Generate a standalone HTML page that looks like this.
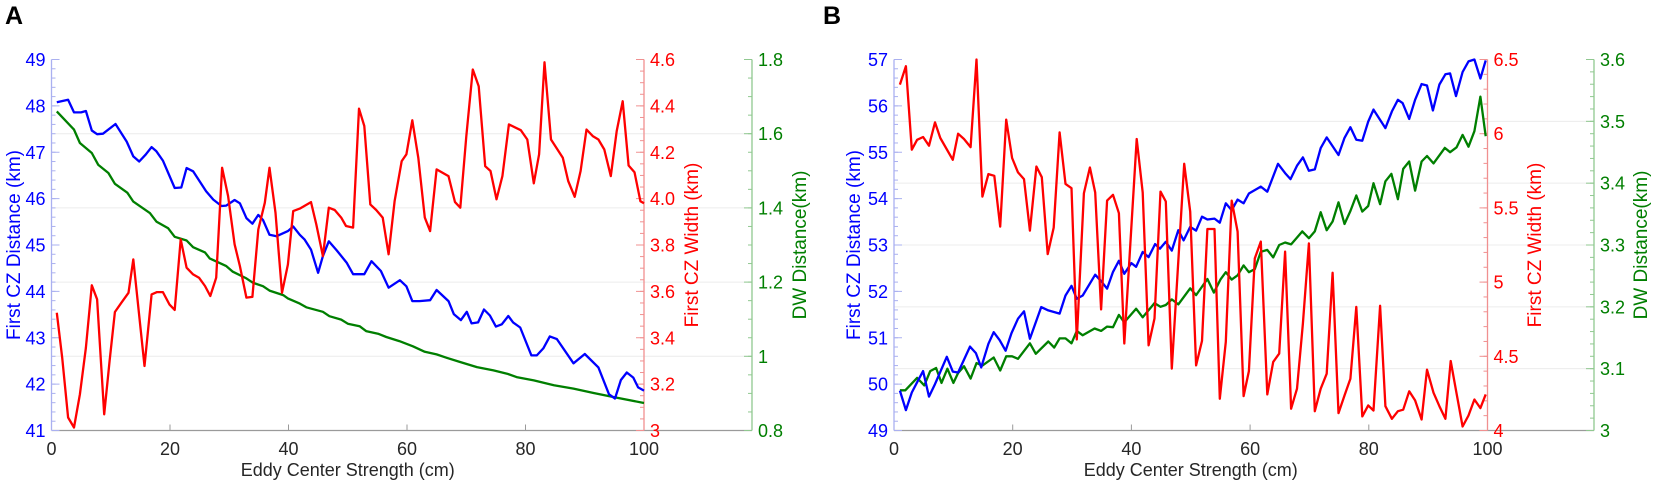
<!DOCTYPE html>
<html><head><meta charset="utf-8">
<style>
html,body{margin:0;padding:0;background:#fff;}
svg{display:block;font-family:"Liberation Sans",Arial,sans-serif;}
</style></head>
<body>
<svg id="chart" width="1654" height="483" viewBox="0 0 1654 483" xmlns="http://www.w3.org/2000/svg"></svg>
<script>
// ---------- Panel A data ----------
const aBlueX=[0.9,2.8,3.8,5,5.8,6.8,7.7,8.7,10.8,12.7,13.8,14.8,15.9,16.9,17.7,18.8,20.8,21.9,22.8,23.9,26.1,27.3,28.7,29.5,30.9,31.8,32.9,33.9,34.9,35.7,36.8,38,39.9,40.8,41.9,42.7,43.8,45,45.8,46.8,48.1,49.8,50.9,52.8,54,55.6,56.9,58.8,59.9,60.9,62.1,63.9,65,67,67.9,69.1,70.1,70.9,72,73,74,75,76,77.1,77.9,79.1,81,81.9,83,84.1,85.3,88.1,90,92.3,94.1,95.1,96.1,97.1,98.2,99,100];
const aBlueY=[48.08,48.13,47.86,47.86,47.89,47.47,47.39,47.40,47.61,47.23,46.91,46.80,46.95,47.11,47.02,46.82,46.23,46.24,46.66,46.59,46.16,45.98,45.84,45.85,45.97,45.90,45.58,45.46,45.65,45.54,45.22,45.19,45.30,45.40,45.22,45.12,44.90,44.40,44.76,45.08,44.89,44.62,44.37,44.37,44.65,44.44,44.08,44.24,44.11,43.79,43.79,43.81,44.03,43.79,43.51,43.38,43.56,43.31,43.33,43.61,43.48,43.24,43.29,43.47,43.33,43.22,42.62,42.62,42.77,43.03,42.97,42.45,42.65,42.36,41.78,41.69,42.09,42.25,42.14,41.93,41.86];
const aRedX=[0.9,1.8,2.8,3.8,4.8,5.8,6.8,7.7,8.9,9.8,10.7,11.8,13,13.8,15.7,16.9,17.8,18.8,19.9,20.8,21.8,22.8,23.9,24.9,25.9,26.8,27.8,28.8,29.8,30.9,31.8,32.9,33.9,34.9,36,36.8,37.8,38.9,39.9,40.8,41.9,43.8,44.7,45.8,46.8,47.8,48.9,49.7,50.9,51.9,52.8,53.8,54.8,55.9,56.9,57.9,59.1,59.9,60.9,61.9,63,63.9,65,67,68.1,69,70,71.1,72.1,73.2,74.1,75.1,76.1,77.2,79.2,80.3,81.4,82.3,83.2,84.3,86.3,87.2,88.3,89.3,90.3,91.4,92.3,93.3,94.4,95.4,96.4,97.4,98.4,99.4,100];
const aRedY=[3.508,3.314,3.056,3.013,3.156,3.357,3.626,3.566,3.070,3.300,3.511,3.551,3.594,3.738,3.278,3.587,3.597,3.597,3.544,3.520,3.824,3.702,3.673,3.659,3.623,3.580,3.659,4.133,4.011,3.803,3.709,3.573,3.576,3.867,3.982,4.133,3.939,3.594,3.716,3.946,3.957,3.985,3.889,3.752,3.961,3.951,3.918,3.882,3.875,4.388,4.313,3.975,3.951,3.918,3.760,3.989,4.162,4.191,4.338,4.176,3.918,3.860,4.126,4.097,3.985,3.961,4.269,4.557,4.485,4.140,4.119,3.997,4.097,4.320,4.295,4.255,4.066,4.191,4.588,4.255,4.176,4.076,4.008,4.119,4.298,4.269,4.255,4.212,4.097,4.291,4.420,4.143,4.114,3.989,3.98];
const aGreenX=[0.9,3.8,4.8,6.8,7.9,9.6,10.7,12.8,13.8,16.6,17.7,19.7,20.8,22.8,23.9,25.9,26.7,29.5,30.6,32.9,34,35.7,36.8,39.1,39.9,41.9,43,45.8,46.9,48.9,50,52,53.1,55.1,56.5,58.7,61,63,65,66.7,68.9,71.8,74.6,76.9,78.5,81.4,84.8,88.1,91.5,94.9,100];
const aGreenY=[1.66,1.611,1.575,1.548,1.516,1.494,1.465,1.441,1.417,1.386,1.363,1.345,1.322,1.312,1.294,1.280,1.264,1.243,1.228,1.210,1.198,1.189,1.177,1.165,1.156,1.142,1.132,1.120,1.108,1.099,1.088,1.081,1.068,1.061,1.052,1.041,1.027,1.012,1.005,0.996,0.985,0.971,0.962,0.953,0.944,0.935,0.922,0.913,0.901,0.890,0.874];
const aXTicks=[0,20,40,60,80,100];
const aBlueTicks=[41,42,43,44,45,46,47,48,49];
const aRedTicks=["3","3.2","3.4","3.6","3.8","4.0","4.2","4.4","4.6"];
const aGreenTicks=["0.8","1","1.2","1.4","1.6","1.8"];
// ---------- Panel B data ----------
const bBlueX=[1.0,2.0,3.0,3.9,4.9,5.9,6.9,8.9,9.9,10.8,12.8,13.8,14.7,15.9,16.8,17.8,18.8,19.8,20.9,21.9,22.9,24.8,26,27.9,28.9,29.9,30.8,31.8,33.9,34.9,35.9,36.9,37.9,38.8,40,40.8,41.9,42.9,44.0,44.8,45.8,46.8,47.9,48.8,49.9,50.9,51.9,52.8,54.0,54.9,55.9,56.9,57.9,58.9,59.8,61.8,62.9,64.7,65.9,66.8,67.9,68.9,69.9,70.9,71.9,72.9,74.9,75.9,76.9,77.9,78.9,79.9,80.8,82.8,83.9,84.9,85.7,86.8,87.8,88.9,89.8,90.8,91.9,92.9,93.7,94.7,95.8,96.8,97.8,98.8,99.7];
const bBlueY=[49.86,49.44,49.82,50.04,50.28,49.73,50.00,50.59,50.27,50.25,50.81,50.67,50.36,50.87,51.12,50.95,50.72,51.10,51.41,51.57,50.98,51.66,51.59,51.52,51.91,52.12,51.84,51.91,52.36,52.22,52.06,52.42,52.66,52.38,52.61,52.53,52.85,52.74,53.02,52.92,53.07,52.88,53.32,53.10,53.39,53.31,53.61,53.55,53.57,53.48,53.90,53.75,53.98,53.90,54.11,54.26,54.15,54.75,54.55,54.42,54.71,54.89,54.60,54.63,55.09,55.32,54.94,55.31,55.54,55.27,55.25,55.66,55.92,55.52,55.88,56.13,56.06,55.72,56.13,56.47,56.44,55.90,56.46,56.68,56.70,56.21,56.73,56.96,57.0,56.59,56.98];
const bRedX=[1.0,2.0,3.0,3.9,4.9,5.9,6.9,7.8,9.9,10.8,11.8,12.9,13.9,14.9,15.9,16.9,17.9,18.9,19.9,20.9,21.9,22.9,24.0,24.9,25.9,26.9,27.9,28.9,29.9,30.8,32.0,33.0,33.9,34.9,35.9,36.9,37.9,38.8,40.9,41.9,42.9,43.9,44.9,45.8,46.8,48.9,49.9,50.9,51.9,52.8,54.0,54.9,55.9,56.9,57.9,58.9,59.8,60.8,61.8,62.9,63.9,64.9,65.9,66.9,67.9,68.9,69.9,70.9,71.9,72.9,73.9,74.9,75.9,76.9,77.9,78.9,79.9,80.8,81.9,82.8,83.9,84.9,85.8,86.8,87.8,88.9,89.8,90.9,91.9,92.9,93.8,94.8,95.8,96.8,97.8,98.8,99.7];
const bRedY=[6.331,6.455,5.892,5.959,5.978,5.919,6.076,5.971,5.824,6.0,5.964,5.910,6.5,5.576,5.728,5.716,5.374,6.095,5.836,5.739,5.694,5.347,5.779,5.707,5.189,5.367,6.009,5.662,5.633,4.613,5.599,5.772,5.604,4.816,5.549,5.588,5.464,4.586,5.964,5.604,4.574,4.755,5.610,5.543,4.417,5.797,5.475,4.439,4.604,5.358,5.358,4.214,4.597,5.549,5.340,4.232,4.400,5.160,5.273,4.243,4.462,4.518,5.205,4.147,4.282,4.721,5.261,4.130,4.282,4.383,5.063,4.117,4.236,4.349,4.833,4.095,4.169,4.135,4.840,4.164,4.079,4.130,4.140,4.264,4.203,4.074,4.410,4.255,4.164,4.079,4.468,4.248,4.027,4.101,4.209,4.151,4.243];
const bGreenX=[1.0,1.9,3.9,5.1,6.1,7.1,8.0,9.0,10.0,10.8,11.8,12.9,13.9,14.9,16.8,17.9,18.9,19.9,20.9,22.9,23.9,26,27,27.9,28.9,29.9,30.8,31.8,33.8,34.9,35.9,36.9,37.9,38.8,40.8,41.9,43.9,44.9,45.8,46.8,47.9,49.9,50.9,52.8,53.9,55.0,55.9,56.9,57.9,58.9,59.8,60.8,61.8,62.9,63.9,64.9,65.9,66.9,67.8,68.8,69.9,70.9,71.9,72.9,73.9,74.9,75.9,76.9,77.9,78.9,79.9,80.8,81.9,82.8,83.8,84.9,85.8,86.8,87.8,88.9,89.8,90.9,92.8,93.7,94.8,95.8,96.8,97.8,98.8,99.7];
const bGreenY=[3.065,3.065,3.085,3.073,3.096,3.101,3.077,3.100,3.077,3.093,3.104,3.084,3.109,3.105,3.118,3.097,3.120,3.120,3.116,3.141,3.124,3.144,3.134,3.149,3.149,3.141,3.161,3.154,3.165,3.161,3.168,3.167,3.187,3.175,3.197,3.183,3.206,3.200,3.203,3.212,3.204,3.230,3.219,3.245,3.223,3.244,3.256,3.244,3.251,3.267,3.256,3.261,3.289,3.292,3.280,3.300,3.304,3.301,3.311,3.322,3.311,3.322,3.353,3.324,3.338,3.369,3.334,3.355,3.380,3.354,3.363,3.400,3.366,3.403,3.415,3.374,3.423,3.435,3.388,3.435,3.444,3.432,3.457,3.450,3.458,3.478,3.459,3.484,3.540,3.476];
const bXTicks=[0,20,40,60,80,100];
const bBlueTicks=[49,50,51,52,53,54,55,56,57];
const bRedTicks=["4","4.5","5","5.5","6","6.5"];
const bGreenTicks=["3","3.1","3.2","3.3","3.4","3.5","3.6"];

const NS="http://www.w3.org/2000/svg";
const svg=document.getElementById('chart');
function mk(tag,attrs,parent){const e=document.createElementNS(NS,tag);for(const k in attrs)e.setAttribute(k,attrs[k]);(parent||svg).appendChild(e);return e;}
function txt(s,attrs,parent){const e=mk('text',attrs,parent);e.textContent=s;return e;}

function panel(cfg){
  const g=mk('g',{});
  
  
  const top=59.5,bot=430.5,L=cfg.left,R=cfg.right,G=cfg.gx;
  const sx=x=>L+(x-cfg.xmin)/(cfg.xmax-cfg.xmin)*(R-L);
  const sy=(v,lo,hi)=>bot-(v-lo)/(hi-lo)*(bot-top);
  // gridlines from green ticks
  cfg.gTicks.forEach(t=>{const v=parseFloat(t);const y=sy(v,cfg.gLo,cfg.gHi);
    if(Math.abs(y-top)>1&&Math.abs(y-bot)>1){const l=mk('line',{x1:L,x2:G,y1:y,y2:y,stroke:'#ececec','stroke-width':1},g);
    
    }});
  // x axis
  const xa=mk('line',{x1:L,x2:G,y1:bot,y2:bot,stroke:'#9a9a9a','stroke-width':1.3},g);
  
  
  cfg.xTicks.forEach(t=>{const x=sx(t);
    mk('line',{x1:x,x2:x,y1:bot,y2:bot-6,stroke:'#9a9a9a','stroke-width':1},g);
    const tl=txt(String(t),{x:x,y:455,'font-size':18,fill:'#262626','text-anchor':'middle'},g);
    
    });
  const xt=txt('Eddy Center Strength (cm)',{x:(L+R)/2,y:476,'font-size':18,fill:'#262626','text-anchor':'middle'},g);
  
  
  // axes
  function vAxis(x,color,lineColor,ticks,lo,hi,minorStep,dir,anchorX,anchor,title,titleX,nm){
    const a=mk('line',{x1:x,x2:x,y1:top,y2:bot,stroke:lineColor,'stroke-width':1.3},g);
    
    
    for(let v=lo;v<=hi+1e-9;v+=minorStep){const y=sy(v,lo,hi);mk('line',{x1:x,x2:x+dir*4,y1:y,y2:y,stroke:lineColor,'stroke-width':1},g);}
    ticks.forEach(t=>{const v=parseFloat(t);const y=sy(v,lo,hi);
      mk('line',{x1:x,x2:x+dir*8,y1:y,y2:y,stroke:lineColor,'stroke-width':1},g);
      const tl=txt(String(t),{x:anchorX,y:y+6.5,'font-size':18,fill:color,'text-anchor':anchor},g);
      
      });
    const tt=txt(title,{x:0,y:0,'font-size':19,fill:color,'text-anchor':'middle',transform:`translate(${titleX},${(top+bot)/2}) rotate(-90)`},g);
    
    
  }
  vAxis(L,'#0000ff','#aab0f0',cfg.bTicks,cfg.bLo,cfg.bHi,cfg.bMinor,1,L-6,'end','First CZ Distance (km)',cfg.bTitleX,'left');
  vAxis(R,'#ff0000','#f09090',cfg.rTicks,cfg.rLo,cfg.rHi,cfg.rMinor,-1,R+6,'start','First CZ Width (km)',cfg.rTitleX,'red');
  vAxis(G,'#007f00','#90c890',cfg.gTicks,cfg.gLo,cfg.gHi,cfg.gMinor,-1,G+6,'start','DW Distance(km)',cfg.gTitleX,'green');
  // series
  function series(xs,ys,lo,hi,color,nm){
    const d=xs.map((x,i)=>(i?'L':'M')+sx(x).toFixed(1)+','+sy(ys[i],lo,hi).toFixed(1)).join('');
    const p=mk('path',{d:d,fill:'none',stroke:color,'stroke-width':2.3,'stroke-linejoin':'round'},g);
    
    
  }
  series(cfg.gx_,cfg.gy_,cfg.gLo,cfg.gHi,'#007f00','dw-distance-line');
  series(cfg.bx_,cfg.by_,cfg.bLo,cfg.bHi,'#0000ff','cz-distance-line');
  series(cfg.rx_,cfg.ry_,cfg.rLo,cfg.rHi,'#ff0000','cz-width-line');
  const pl=txt(cfg.label,{x:cfg.labelX,y:24,'font-size':25,'font-weight':'bold',fill:'#000','text-anchor':'middle'},g);
  
  
}

panel({name:'panel-a',label:'A',labelX:14,left:51.5,right:644,gx:752,xmin:0,xmax:100,xTicks:aXTicks,
  bTicks:aBlueTicks,bLo:41,bHi:49,bMinor:0.2,bTitleX:20,
  rTicks:aRedTicks,rLo:3,rHi:4.6,rMinor:0.05,rTitleX:698,
  gTicks:aGreenTicks,gLo:0.8,gHi:1.8,gMinor:0.05,gTitleX:806,
  bx_:aBlueX,by_:aBlueY,rx_:aRedX,ry_:aRedY,gx_:aGreenX,gy_:aGreenY});
panel({name:'panel-b',label:'B',labelX:832,left:894,right:1487.5,gx:1594,xmin:0,xmax:100,xTicks:bXTicks,
  bTicks:bBlueTicks,bLo:49,bHi:57,bMinor:0.2,bTitleX:860,
  rTicks:bRedTicks,rLo:4,rHi:6.5,rMinor:0.1,rTitleX:1541,
  gTicks:bGreenTicks,gLo:3,gHi:3.6,gMinor:0.02,gTitleX:1647,
  bx_:bBlueX,by_:bBlueY,rx_:bRedX,ry_:bRedY,gx_:bGreenX,gy_:bGreenY});
</script>
</body></html>
